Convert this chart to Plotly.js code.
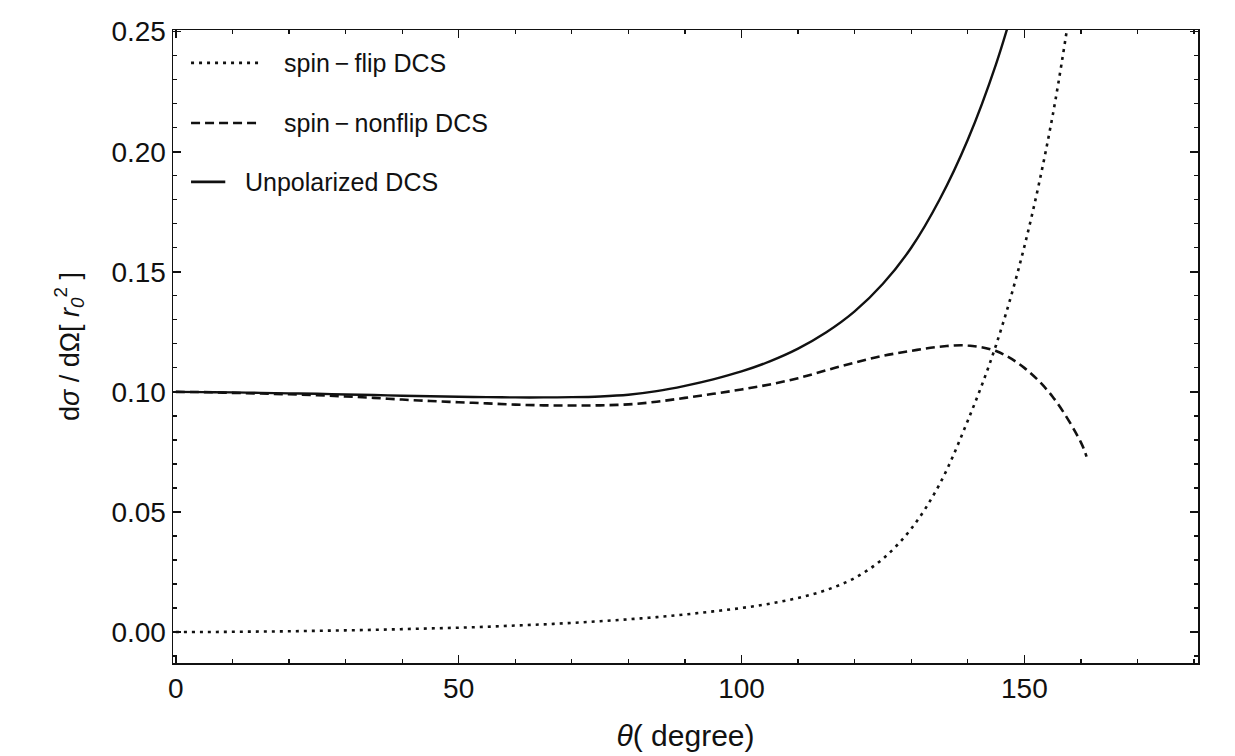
<!DOCTYPE html>
<html>
<head>
<meta charset="utf-8">
<script src="https://cdn.plot.ly/plotly-3.0.1.min.js"></script>
<style>
  html, body { margin: 0; padding: 0; background: #fff; }
  #chart { width: 1235px; height: 756px; }
</style>
</head>
<body>
<div id="chart"></div>
<script>
// Scattering angle (degrees), sampled every 5 degrees
const theta = [0, 5, 10, 15, 20, 25, 30, 35, 40, 45, 50, 55, 60, 65, 70, 75, 80, 85, 90, 95, 100, 105, 110, 115, 120, 125, 130, 135, 140, 145, 150, 155, 160];

// Differential cross sections in units of r0^2
const flipDCS = [0.0000, 0.0000, 0.0001, 0.0002, 0.0003, 0.0005, 0.0007, 0.0009, 0.0012, 0.0015, 0.0018, 0.0022, 0.0027, 0.0032, 0.0038, 0.0045, 0.0053, 0.0062, 0.0073, 0.0086, 0.0100, 0.0118, 0.0142, 0.0175, 0.0225, 0.0305, 0.0430, 0.0615, 0.0880, 0.1195, 0.1605, 0.2150, 0.2900];

// The spin-nonflip curve stops at 161 degrees
const thetaNonflip = theta.concat([161]);
const nonflipDCS = [0.1000, 0.0999, 0.0996, 0.0993, 0.0990, 0.0986, 0.0981, 0.0975, 0.0968, 0.0962, 0.0957, 0.0952, 0.0947, 0.0944, 0.0943, 0.0944, 0.0948, 0.0959, 0.0975, 0.0992, 0.1010, 0.1031, 0.1057, 0.1090, 0.1122, 0.1150, 0.1171, 0.1188, 0.1193, 0.1170, 0.1100, 0.0980, 0.0790, 0.0730];

// The unpolarized curve leaves the frame near 147 degrees
const thetaUnpol = theta.slice(0, 31);
const unpolDCS = [0.1000, 0.0999, 0.0998, 0.0996, 0.0994, 0.0992, 0.0989, 0.0987, 0.0984, 0.0982, 0.0980, 0.0978, 0.0977, 0.0977, 0.0978, 0.0981, 0.0988, 0.1003, 0.1025, 0.1052, 0.1085, 0.1127, 0.1180, 0.1248, 0.1335, 0.1450, 0.1600, 0.1800, 0.2050, 0.2365, 0.2760];

const seriesNames = ['spin\u2009\u2212\u2009flip DCS', 'spin\u2009\u2212\u2009nonflip DCS', 'Unpolarized DCS'];

const FONT = 'Liberation Sans, Arial, Helvetica, sans-serif';
const INK = '#111';

const traces = [
  { x: theta, y: flipDCS, name: seriesNames[0], mode: 'lines',
    line: { color: INK, width: 2.6, dash: '3px,5px', shape: 'spline', smoothing: 1 } },
  { x: thetaNonflip, y: nonflipDCS, name: seriesNames[1], mode: 'lines',
    line: { color: INK, width: 2.6, dash: '9px,5px', shape: 'spline', smoothing: 1 } },
  { x: thetaUnpol, y: unpolDCS, name: seriesNames[2], mode: 'lines',
    line: { color: INK, width: 2.4, shape: 'spline', smoothing: 1 } }
];

// Hand-placed key in the upper-left corner of the frame
const key = [
  { dash: '3px,5px', x1: 0.083, y: 0.948, tx: 0.1063 },
  { dash: '9px,5px', x1: 0.083, y: 0.853, tx: 0.1063 },
  { dash: 'solid',   x1: 0.051, y: 0.760, tx: 0.0683 }
];
const shapes = key.map(k => ({
  type: 'line', xref: 'paper', yref: 'paper', x0: 0.0176, x1: k.x1, y0: k.y, y1: k.y,
  line: { color: INK, width: 2.6, dash: k.dash }
}));
const annotations = key.map((k, i) => ({
  xref: 'paper', yref: 'paper', x: k.tx, y: k.y, xanchor: 'left', yanchor: 'middle',
  text: seriesNames[i], showarrow: false, font: { family: FONT, size: 25, color: INK }
}));

const layout = {
  width: 1235, height: 756,
  margin: { l: 173, r: 37, t: 30, b: 93 },
  paper_bgcolor: '#fff', plot_bgcolor: '#fff',
  showlegend: false,
  font: { family: FONT, color: INK },
  xaxis: {
    range: [-0.5, 180.7], tick0: 0, dtick: 50,
    ticks: 'inside', ticklen: 8, tickwidth: 1.5, tickcolor: INK,
    minor: { dtick: 10, ticks: 'inside', ticklen: 4, tickwidth: 1.2, tickcolor: INK },
    showline: true, linecolor: INK, linewidth: 1.5, mirror: 'ticks',
    showgrid: false, zeroline: false,
    tickfont: { family: FONT, size: 28, color: INK },
    title: { text: '<i>θ</i>( degree)', font: { family: FONT, size: 30, color: INK }, standoff: 22 }
  },
  yaxis: {
    range: [-0.0129, 0.2507], tick0: 0, dtick: 0.05, tickformat: '.2f',
    ticks: 'inside', ticklen: 8, tickwidth: 1.5, tickcolor: INK,
    minor: { dtick: 0.01, ticks: 'inside', ticklen: 4, tickwidth: 1.2, tickcolor: INK },
    showline: true, linecolor: INK, linewidth: 1.5, mirror: 'ticks',
    showgrid: false, zeroline: false,
    tickfont: { family: FONT, size: 28, color: INK },
    title: { text: 'd<i>σ</i> / dΩ[ <i>r</i><sub><i>0</i></sub><sup>2</sup> ]', font: { family: FONT, size: 27, color: INK }, standoff: 24 }
  },
  shapes: shapes,
  annotations: annotations
};

Plotly.newPlot('chart', traces, layout, { displayModeBar: false, staticPlot: true });
</script>
</body>
</html>
